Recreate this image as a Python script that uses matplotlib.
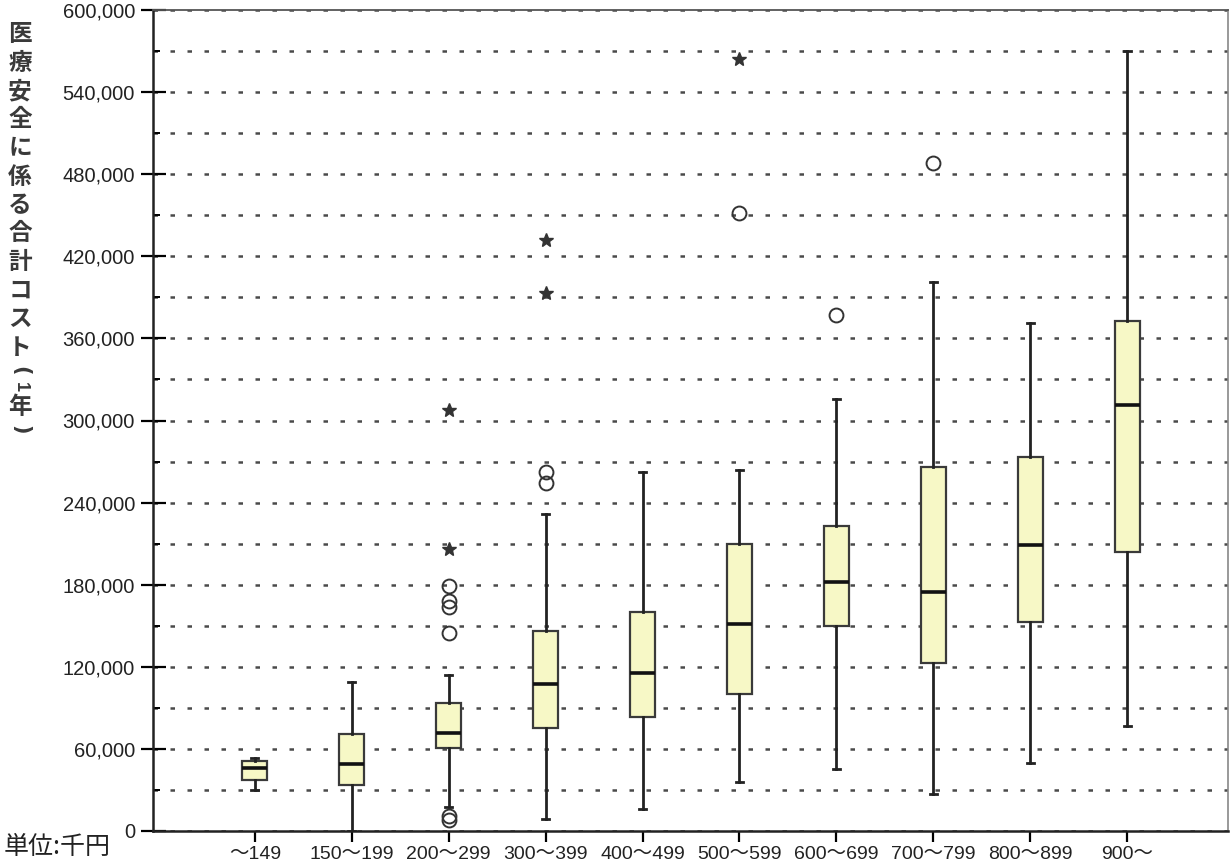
import matplotlib
matplotlib.use("Agg")
import matplotlib.pyplot as plt
from matplotlib.ticker import MultipleLocator, FuncFormatter

# ---- data (thousand yen) ----
categories = ["～149", "150～199", "200～299", "300～399", "400～499",
              "500～599", "600～699", "700～799", "800～899", "900～"]
whisker_low = [30000, 0, 17600, 8800, 16000, 36000, 45000, 27000, 49800, 77000]
q1 = [37400, 33700, 60800, 75500, 83500, 100000, 150000, 123000, 152400, 203700]
median = [46200, 49100, 71800, 107700, 115700, 151600, 181700, 175000, 208800, 311400]
q3 = [51300, 71100, 93800, 146500, 159700, 209500, 222700, 266000, 273000, 373000]
whisker_high = [53500, 109200, 114300, 231500, 262000, 263700, 315700, 401500, 371400, 570000]
outliers_circle = [[], [], [8000, 11000, 145000, 164000, 168000, 179000],
                   [254000, 262000], [], [452000], [377000], [488000], [], []]
outliers_star = [[], [], [206000, 308000], [393000, 432000], [], [564000],
                 [], [], [], []]
ylabel_chars = list("医療安全に係る合計コスト") + ["(", "1", "年", ")"]
unit_label = "単位:千円"

W, H = 1232, 868
fig = plt.figure(figsize=(W / 100, H / 100), dpi=100)
ax_left, ax_right, ax_top, ax_bottom = 153, 1228, 10, 831
ax = fig.add_axes([ax_left / W, 1 - ax_bottom / H,
                   (ax_right - ax_left) / W, (ax_bottom - ax_top) / H])

positions = list(range(1, len(categories) + 1))
stats = []
for i in range(len(categories)):
    stats.append(dict(whislo=whisker_low[i], q1=q1[i], med=median[i],
                      q3=q3[i], whishi=whisker_high[i], fliers=[]))

ax.bxp(stats, positions=positions, widths=0.26, showfliers=False,
       patch_artist=True, capwidths=0.07,
       boxprops=dict(facecolor="#f7f8c6", edgecolor="#3a3a3a", linewidth=1.6),
       medianprops=dict(color="#111111", linewidth=2.6),
       whiskerprops=dict(color="#222222", linewidth=2.0),
       capprops=dict(color="#222222", linewidth=2.0),
       zorder=3)

for pos, vals in zip(positions, outliers_circle):
    if vals:
        ax.plot([pos] * len(vals), vals, linestyle="none", marker="o",
                markersize=10, markerfacecolor="none",
                markeredgecolor="#333333", markeredgewidth=1.4, zorder=4)
for pos, vals in zip(positions, outliers_star):
    if vals:
        ax.plot([pos] * len(vals), vals, linestyle="none", marker="*",
                markersize=10, color="#333333", zorder=4)

ax.set_xlim(-0.05, 11.04)
ax.set_ylim(0, 600000)
ax.set_xticks(positions)
ax.set_xticklabels(categories, family=["Liberation Sans", "Noto Sans CJK JP"],
                   fontsize=14, color="#222222")
ax.yaxis.set_major_locator(MultipleLocator(60000))
ax.yaxis.set_minor_locator(MultipleLocator(30000))
ax.yaxis.set_major_formatter(FuncFormatter(lambda v, p: f"{int(v):,}"))
for lab in ax.get_yticklabels():
    lab.set_family("Liberation Sans")
ax.tick_params(axis="y", which="major", direction="inout", length=18,
               width=1.6, pad=4, labelsize=14.5, labelcolor="#222222")
ax.tick_params(axis="y", which="minor", direction="in", length=5, width=1.4)
ax.tick_params(axis="x", which="major", direction="out", length=8, width=1.6,
               pad=3)

ax.set_axisbelow(True)
ax.grid(axis="y", which="both", color="#4a4a4a", linewidth=1.8,
        linestyle=(0, (1.8, 5.0)))
ax.grid(axis="x", visible=False)

for side in ["left", "bottom"]:
    ax.spines[side].set_color("#222222")
    ax.spines[side].set_linewidth(1.8)
ax.spines["top"].set_color("#555555")
ax.spines["top"].set_linewidth(1.3)
ax.spines["right"].set_color("#888888")
ax.spines["right"].set_linewidth(1.2)

# vertical y-axis label (upright characters stacked top to bottom)
ys = [34 + 28.5 * i for i in range(12)] + [371, 387, 407, 430]
sizes = [17] * 12 + [15, 13, 17, 15]
rots = [0] * 12 + [-90, -90, 0, -90]
fams = [["Noto Sans CJK JP", "DejaVu Sans"]] * 12 + \
       [["DejaVu Sans"], ["Liberation Sans"], ["Noto Sans CJK JP"], ["DejaVu Sans"]]
for ch, yp, fs, rot, fam in zip(ylabel_chars, ys, sizes, rots, fams):
    fig.text(20 / W, 1 - yp / H, ch, ha="center", va="center", rotation=rot,
             fontsize=fs, fontweight="bold", color="#3a3a3a", family=fam)

fig.text(4 / W, 1 - 847 / H, unit_label, ha="left", va="center",
         fontsize=18, color="#222222",
         family=["Noto Sans CJK JP", "DejaVu Sans"])

fig.savefig("out.png", dpi=100, facecolor="white")
